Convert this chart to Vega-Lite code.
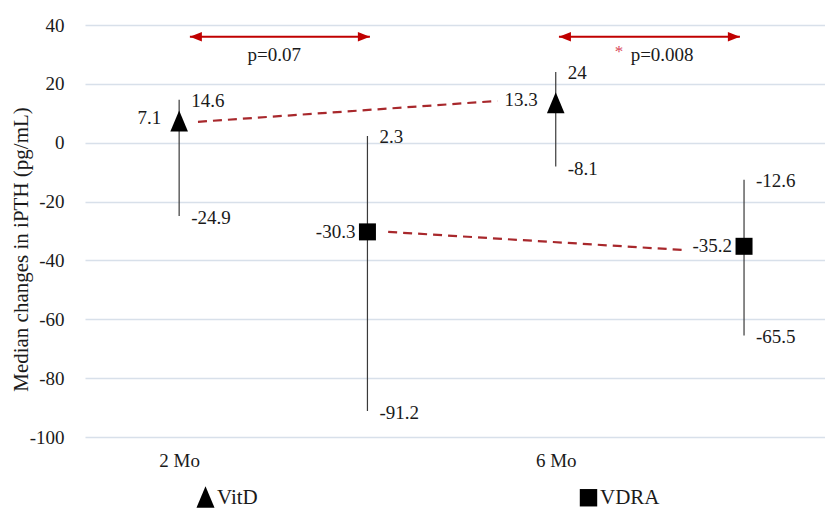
{
  "$schema": "https://vega.github.io/schema/vega-lite/v6.json",
  "autosize": {"type": "none"},
  "width": 740,
  "height": 412,
  "padding": {"left": 85, "top": 25, "right": 0, "bottom": 73},
  "background": "white",
  "config": {
    "view": {"stroke": null},
    "font": "Liberation Serif",
    "text": {"font": "Liberation Serif", "fontSize": 19, "color": "#1a1a1a"}
  },
  "datasets": {
    "pts": [
      {"group": "VitD", "x": 1, "med": 7.1, "lo": -24.9, "hi": 14.6, "medTxt": "7.1", "loTxt": "-24.9", "hiTxt": "14.6"},
      {"group": "VDRA", "x": 2, "med": -30.3, "lo": -91.2, "hi": 2.3, "medTxt": "-30.3", "loTxt": "-91.2", "hiTxt": "2.3"},
      {"group": "VitD", "x": 3, "med": 13.3, "lo": -8.1, "hi": 24, "medTxt": "13.3", "loTxt": "-8.1", "hiTxt": "24"},
      {"group": "VDRA", "x": 4, "med": -35.2, "lo": -65.5, "hi": -12.6, "medTxt": "-35.2", "loTxt": "-65.5", "hiTxt": "-12.6"}
    ],
    "trend": [
      {"group": "VitD", "x": 1.1, "y": 7.1},
      {"group": "VitD", "x": 2.69, "y": 14.2},
      {"group": "VDRA", "x": 2.11, "y": -30.3},
      {"group": "VDRA", "x": 3.69, "y": -36.5}
    ],
    "arrows": [
      {"pair": "2 Mo", "x1": 1.057, "x2": 2.013, "y": 36, "px": 1.505, "py": 29.8, "p": "p=0.07", "star": ""},
      {"pair": "6 Mo", "x1": 3.017, "x2": 3.978, "y": 36, "px": 3.565, "py": 29.8, "p": "p=0.008", "star": "*"}
    ]
  },
  "layer": [
    {
      "data": {"name": "pts"},
      "mark": {"type": "rule", "color": "#3a3a3a", "strokeWidth": 1.2},
      "encoding": {
        "x": {
          "field": "x", "type": "quantitative",
          "scale": {"domain": [0.5, 4.43], "nice": false, "zero": false},
          "axis": {
            "values": [1, 3],
            "labelExpr": "datum.value < 2 ? '2 Mo' : '6 Mo'",
            "grid": false, "domain": false, "ticks": false,
            "labelPadding": 14, "labelFontSize": 19, "labelFont": "Liberation Serif",
            "labelColor": "#1a1a1a", "title": null
          }
        },
        "y": {
          "field": "lo", "type": "quantitative",
          "scale": {"domain": [-100, 40], "nice": false, "zero": false},
          "axis": {
            "values": [-100, -80, -60, -40, -20, 0, 20, 40],
            "labelExpr": "'' + datum.value",
            "grid": true, "gridColor": "#d8e0ea", "gridWidth": 1.3,
            "domain": false, "ticks": false,
            "labelPadding": 21, "labelFontSize": 19, "labelFont": "Liberation Serif",
            "labelColor": "#1a1a1a",
            "title": "Median changes in iPTH (pg/mL)",
            "titleFont": "Liberation Serif", "titleFontSize": 21, "titleFontWeight": "normal",
            "titleColor": "#1a1a1a", "titleX": -64, "titleY": 224,
            "titleAlign": "center", "titleBaseline": "middle", "titleAngle": -90
          }
        },
        "y2": {"field": "hi"}
      }
    },
    {
      "data": {"name": "trend"},
      "mark": {"type": "line", "color": "#a8282c", "strokeWidth": 2.2, "strokeDash": [9, 6]},
      "encoding": {
        "x": {"field": "x", "type": "quantitative"},
        "y": {"field": "y", "type": "quantitative"},
        "detail": {"field": "group"}
      }
    },
    {
      "data": {"name": "pts"},
      "mark": {"type": "point", "filled": true, "opacity": 1, "size": 400, "color": "black"},
      "encoding": {
        "x": {"field": "x", "type": "quantitative"},
        "y": {"field": "med", "type": "quantitative"},
        "shape": {
          "field": "group", "type": "nominal",
          "scale": {
            "domain": ["VitD", "VDRA"],
            "range": ["M0,-1.12L0.88,0.98L-0.88,0.98Z", "M-0.85,-0.85L0.85,-0.85L0.85,0.85L-0.85,0.85Z"]
          },
          "legend": {
            "orient": "none", "direction": "horizontal", "columns": 2,
            "legendX": 110, "legendY": 462, "title": null,
            "symbolSize": 420, "symbolFillColor": "black", "symbolStrokeWidth": 0, "symbolOpacity": 1,
            "labelFont": "Liberation Serif", "labelFontSize": 21, "labelColor": "#1a1a1a",
            "labelOffset": 1, "columnPadding": 320, "padding": 0
          }
        }
      }
    },
    {
      "data": {"name": "pts"},
      "mark": {"type": "text", "align": "left", "baseline": "middle", "dx": 12, "dy": 1},
      "encoding": {
        "x": {"field": "x", "type": "quantitative"},
        "y": {"field": "hi", "type": "quantitative"},
        "text": {"field": "hiTxt", "type": "nominal"}
      }
    },
    {
      "data": {"name": "pts"},
      "mark": {"type": "text", "align": "left", "baseline": "middle", "dx": 12, "dy": 2},
      "encoding": {
        "x": {"field": "x", "type": "quantitative"},
        "y": {"field": "lo", "type": "quantitative"},
        "text": {"field": "loTxt", "type": "nominal"}
      }
    },
    {
      "data": {"name": "pts"},
      "transform": [{"filter": "datum.group === 'VitD'"}],
      "mark": {"type": "text", "align": "right", "baseline": "middle", "dx": -18, "dy": -4},
      "encoding": {
        "x": {"field": "x", "type": "quantitative"},
        "y": {"field": "med", "type": "quantitative"},
        "text": {"field": "medTxt", "type": "nominal"}
      }
    },
    {
      "data": {"name": "pts"},
      "transform": [{"filter": "datum.group === 'VDRA'"}],
      "mark": {"type": "text", "align": "right", "baseline": "middle", "dx": -12, "dy": 0},
      "encoding": {
        "x": {"field": "x", "type": "quantitative"},
        "y": {"field": "med", "type": "quantitative"},
        "text": {"field": "medTxt", "type": "nominal"}
      }
    },
    {
      "data": {"name": "arrows"},
      "mark": {"type": "rule", "color": "#c00000", "strokeWidth": 2},
      "encoding": {
        "x": {"field": "x1", "type": "quantitative"},
        "x2": {"field": "x2"},
        "y": {"field": "y", "type": "quantitative"}
      }
    },
    {
      "data": {"name": "arrows"},
      "mark": {"type": "point", "filled": true, "opacity": 1, "color": "#c00000", "size": 144, "shape": "M0,0L2,-0.8L2,0.8Z"},
      "encoding": {
        "x": {"field": "x1", "type": "quantitative"},
        "y": {"field": "y", "type": "quantitative"}
      }
    },
    {
      "data": {"name": "arrows"},
      "mark": {"type": "point", "filled": true, "opacity": 1, "color": "#c00000", "size": 144, "shape": "M0,0L-2,-0.8L-2,0.8Z"},
      "encoding": {
        "x": {"field": "x2", "type": "quantitative"},
        "y": {"field": "y", "type": "quantitative"}
      }
    },
    {
      "data": {"name": "arrows"},
      "mark": {"type": "text", "align": "center", "baseline": "middle"},
      "encoding": {
        "x": {"field": "px", "type": "quantitative"},
        "y": {"field": "py", "type": "quantitative"},
        "text": {"field": "p", "type": "nominal"}
      }
    },
    {
      "data": {"name": "arrows"},
      "mark": {"type": "text", "align": "center", "baseline": "middle", "dx": -43, "dy": -3, "color": "#d9475a", "fontSize": 17},
      "encoding": {
        "x": {"field": "px", "type": "quantitative"},
        "y": {"field": "py", "type": "quantitative"},
        "text": {"field": "star", "type": "nominal"}
      }
    }
  ]
}
